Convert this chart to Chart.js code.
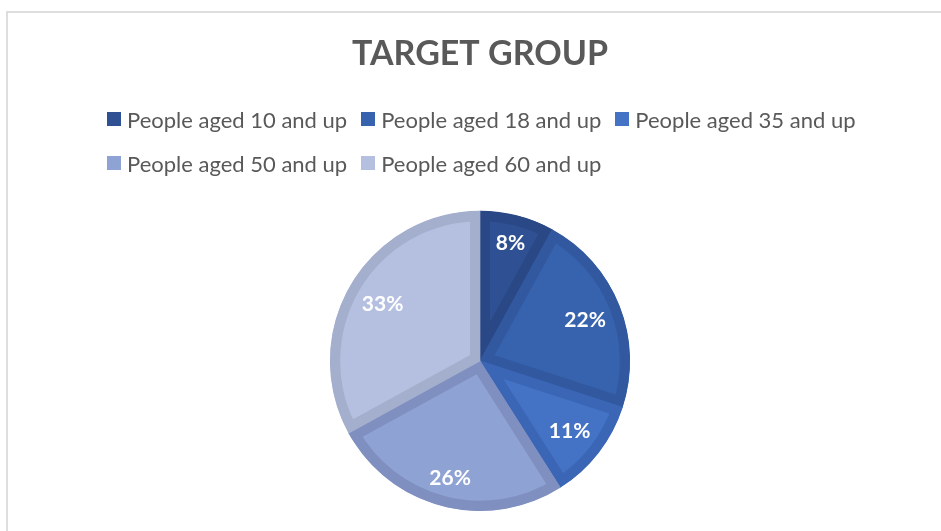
<!DOCTYPE html>
<html>
<head>
<meta charset="utf-8">
<title>Target group</title>
<script src="https://cdn.jsdelivr.net/npm/chart.js@4.4.1/dist/chart.umd.min.js"></script>
<style>
  html, body { margin: 0; padding: 0; background: #fff; }
  #wrap { position: relative; width: 941px; height: 531px; overflow: hidden; }
  #frame { position: absolute; left: 6px; top: 11px; width: 1000px; height: 600px;
           border: 2px solid #dedede; box-sizing: border-box; }
  #pie { position: absolute; left: 0; top: 0; }
  #legend { position: absolute; left: 107px; top: 97px; width: 820px;
            font-family: Lato, "Open Sans", sans-serif; font-size: 22px; color: #595959; }
  .row { display: flex; height: 44px; align-items: center; }
  .item { display: flex; align-items: center; margin-right: 14px; white-space: nowrap; }
  .box { width: 14px; height: 14px; margin-right: 6px; }
</style>
</head>
<body>
<div id="wrap">
  <div id="frame"></div>
  <canvas id="pie" width="941" height="531"></canvas>
  <div id="legend"></div>
</div>
<script>
document.addEventListener("DOMContentLoaded", () => {
  const categories = [
    "People aged 10 and up",
    "People aged 18 and up",
    "People aged 35 and up",
    "People aged 50 and up",
    "People aged 60 and up",
  ];
  const shares = [8, 22, 11, 26, 33];
  const fillColors = ["#2F5193", "#3763AE", "#4472C4", "#8FA2D4", "#B5C0E1"];
  const edgeColors = ["#2A4885", "#3259A0", "#3A66B5", "#7F8FBF", "#A4AECD"];
  const legendRows = [[0, 1, 2], [3, 4]];

  // percent labels, pushed out towards the rim like Excel's "inside end"
  const sliceLabels = {
    id: "sliceLabels",
    afterDatasetsDraw(chart) {
      const ctx = chart.ctx;
      const meta = chart.getDatasetMeta(0);
      ctx.save();
      ctx.font = "bold 21px Lato";
      ctx.fillStyle = "#ffffff";
      ctx.textAlign = "center";
      ctx.textBaseline = "middle";
      meta.data.forEach((arc, i) => {
        const { x, y, startAngle, endAngle, outerRadius } =
          arc.getProps(["x", "y", "startAngle", "endAngle", "outerRadius"], true);
        const mid = (startAngle + endAngle) / 2;
        const text = shares[i] + "%";
        const w = ctx.measureText(text).width;
        const h = 20;
        const c = Math.abs(Math.cos(mid));
        const s = Math.abs(Math.sin(mid));
        const target = outerRadius - 14;
        const b = c * w + s * h;
        const k = (w * w + h * h) / 4 - target * target;
        const d = (-b + Math.sqrt(b * b - 4 * k)) / 2;
        ctx.fillText(text, x + d * Math.cos(mid), y + d * Math.sin(mid) + 1);
      });
      ctx.restore();
    },
  };

  const chart = new Chart(document.getElementById("pie").getContext("2d"), {
    type: "pie",
    data: {
      labels: categories,
      datasets: [
        {
          data: shares,
          backgroundColor: fillColors,
          borderColor: edgeColors,
          borderWidth: 10,
          borderAlign: "inner",
          hoverOffset: 0,
        },
      ],
    },
    options: {
      responsive: false,
      animation: false,
      layout: { padding: { left: 19, right: 0, top: 0, bottom: 20 } },
      plugins: {
        legend: { display: false },
        tooltip: { enabled: false },
        title: {
          display: true,
          text: "TARGET GROUP",
          color: "#595959",
          font: { family: "Lato", size: 34, weight: "bold" },
          padding: { top: 34, bottom: 136 },
        },
      },
    },
    plugins: [sliceLabels],
  });

  const legend = document.getElementById("legend");
  legendRows.forEach((row) => {
    const rowEl = document.createElement("div");
    rowEl.className = "row";
    row.forEach((i) => {
      const item = document.createElement("div");
      item.className = "item";
      const box = document.createElement("span");
      box.className = "box";
      box.style.background = chart.data.datasets[0].backgroundColor[i];
      const label = document.createElement("span");
      label.textContent = chart.data.labels[i];
      item.appendChild(box);
      item.appendChild(label);
      rowEl.appendChild(item);
    });
    legend.appendChild(rowEl);
  });
});
</script>
</body>
</html>
